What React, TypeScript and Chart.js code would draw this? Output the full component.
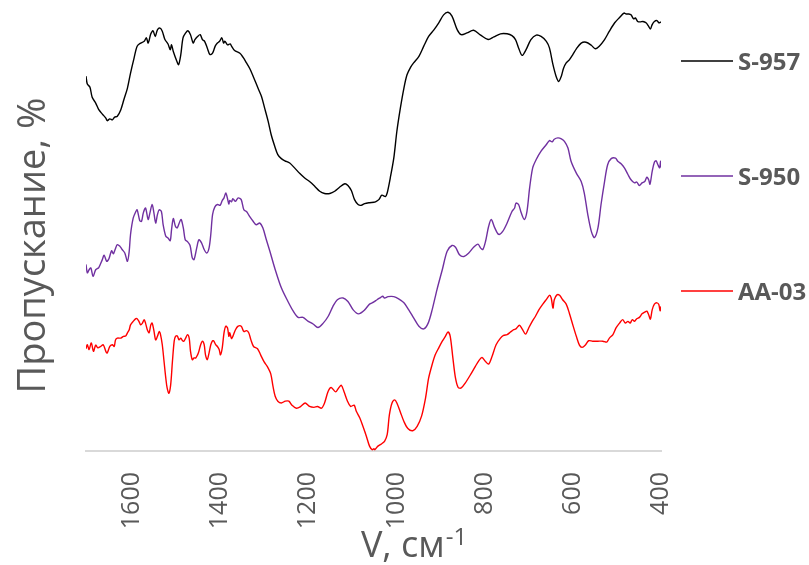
import React, { useEffect, useRef } from "react";
import { Chart, registerables } from "chart.js";

Chart.register(...registerables);

const seriesNames = ["S-957", "S-950", "AA-03"];
const seriesColors = ["#000000", "#7030A0", "#FF0000"];
const yTitle = "Пропускание, %";
const xTitle = "V, см";
const xTitleSup = "-1";
const xMin = 400;
const xMax = 1704;
const xStep = 200;

const s957X = [1704, 1701, 1695, 1690, 1682, 1675, 1667, 1659, 1656, 1650, 1644, 1639, 1633, 1625, 1618, 1610, 1603, 1595, 1588, 1580, 1572, 1567, 1563, 1557, 1552, 1547, 1542, 1536, 1531, 1525, 1518, 1513, 1510, 1506, 1498, 1494, 1489, 1484, 1478, 1473, 1467, 1461, 1457, 1451, 1445, 1440, 1435, 1429, 1423, 1417, 1411, 1406, 1401, 1396, 1392, 1389, 1383, 1377, 1374, 1367, 1355, 1348, 1340, 1333, 1325, 1314, 1306, 1299, 1291, 1284, 1276, 1269, 1261, 1253, 1242, 1231, 1219, 1208, 1197, 1185, 1174, 1163, 1151, 1140, 1129, 1117, 1110, 1102, 1095, 1087, 1080, 1072, 1061, 1051, 1048, 1040, 1033, 1025, 1021, 1014, 1006, 999, 991, 983, 976, 968, 961, 949, 938, 927, 915, 904, 893, 883, 874, 862, 853, 840, 825, 809, 792, 779, 764, 749, 738, 730, 723, 715, 706, 695, 683, 672, 660, 653, 645, 638, 632, 626, 621, 615, 608, 600, 592, 581, 570, 558, 549, 540, 528, 517, 505, 494, 484, 479, 473, 468, 462, 458, 453, 447, 441, 434, 428, 424, 420, 415, 409, 405, 400];
const s957Y = [85.0, 83.2, 82.5, 80.2, 78.9, 77.4, 76.4, 75.5, 74.9, 75.3, 75.1, 75.7, 75.9, 77.4, 79.7, 82.3, 85.7, 89.1, 91.8, 92.5, 92.9, 93.7, 92.5, 94.6, 95.3, 94.0, 95.5, 95.9, 95.2, 93.3, 92.3, 91.0, 92.1, 90.6, 88.4, 87.6, 89.9, 93.7, 94.8, 95.3, 94.4, 92.5, 93.3, 94.0, 94.4, 93.3, 92.9, 91.4, 89.9, 90.2, 91.8, 92.5, 92.9, 93.7, 92.5, 92.9, 92.1, 92.3, 91.8, 90.8, 90.2, 89.3, 88.0, 86.8, 85.0, 82.3, 80.4, 77.8, 74.8, 71.7, 69.1, 67.2, 66.3, 65.8, 65.3, 64.2, 62.9, 61.9, 61.1, 60.0, 58.9, 58.4, 58.4, 58.9, 59.8, 60.6, 60.2, 59.0, 57.0, 55.9, 55.7, 56.1, 56.3, 56.4, 56.5, 57.0, 58.0, 57.7, 58.5, 61.9, 66.4, 72.5, 77.8, 82.3, 85.3, 87.0, 88.0, 89.5, 91.8, 94.0, 95.5, 97.1, 98.9, 99.5, 98.6, 95.5, 94.4, 94.8, 95.4, 94.3, 93.3, 93.9, 94.6, 94.6, 94.2, 93.3, 91.4, 89.7, 91.0, 93.3, 94.3, 94.0, 92.9, 91.4, 87.6, 85.0, 83.8, 85.0, 86.8, 88.0, 88.7, 89.9, 91.2, 92.5, 92.7, 92.0, 91.2, 91.8, 93.3, 95.2, 97.1, 98.3, 99.3, 99.1, 99.1, 98.9, 98.0, 98.2, 97.4, 97.3, 97.4, 97.1, 96.3, 95.7, 96.7, 97.4, 97.6, 97.1, 97.3];

const s950X = [1704, 1701, 1697, 1693, 1688, 1682, 1675, 1667, 1663, 1657, 1652, 1646, 1642, 1638, 1633, 1627, 1622, 1616, 1610, 1606, 1603, 1597, 1591, 1588, 1582, 1578, 1574, 1569, 1563, 1559, 1554, 1550, 1546, 1542, 1538, 1533, 1529, 1523, 1518, 1513, 1510, 1506, 1501, 1497, 1491, 1488, 1483, 1479, 1474, 1468, 1463, 1459, 1453, 1448, 1442, 1436, 1430, 1425, 1421, 1417, 1412, 1406, 1400, 1395, 1391, 1387, 1383, 1380, 1378, 1374, 1371, 1365, 1359, 1352, 1346, 1340, 1333, 1325, 1318, 1310, 1303, 1295, 1287, 1276, 1261, 1246, 1234, 1223, 1212, 1200, 1189, 1178, 1166, 1155, 1144, 1134, 1121, 1110, 1098, 1086, 1072, 1061, 1051, 1044, 1036, 1031, 1027, 1019, 1006, 995, 983, 972, 961, 949, 938, 928, 919, 908, 896, 885, 874, 866, 857, 847, 836, 825, 815, 809, 804, 798, 791, 785, 777, 768, 759, 749, 738, 732, 729, 723, 717, 710, 704, 698, 691, 683, 672, 660, 653, 647, 642, 634, 626, 619, 611, 604, 592, 581, 574, 566, 558, 551, 543, 536, 528, 521, 513, 503, 498, 490, 483, 475, 468, 460, 455, 449, 443, 437, 432, 428, 425, 420, 415, 411, 407, 403, 401, 400];
const s950Y = [42.3, 40.4, 41.1, 41.5, 39.6, 41.1, 41.6, 43.4, 44.4, 43.0, 43.6, 45.4, 44.7, 45.7, 46.8, 46.4, 45.7, 44.9, 43.0, 45.3, 49.1, 52.8, 54.3, 54.7, 52.2, 52.1, 54.0, 55.1, 52.5, 54.0, 55.9, 54.0, 51.7, 53.6, 54.7, 54.3, 51.3, 48.7, 48.3, 47.7, 50.2, 52.7, 50.9, 50.6, 52.1, 52.5, 50.4, 47.9, 47.5, 46.6, 43.8, 43.4, 46.0, 47.9, 47.2, 45.7, 44.9, 46.0, 49.1, 53.6, 55.3, 55.9, 55.7, 56.8, 57.4, 58.5, 57.2, 56.0, 56.8, 56.5, 57.2, 56.6, 57.4, 57.0, 54.7, 54.3, 53.2, 52.1, 51.3, 51.7, 50.6, 47.9, 45.3, 41.5, 37.0, 33.9, 31.7, 30.3, 30.3, 29.4, 28.8, 28.0, 29.0, 30.5, 32.8, 34.3, 34.7, 33.9, 32.0, 31.1, 32.0, 33.3, 33.8, 34.3, 34.8, 35.1, 34.7, 35.0, 35.0, 34.5, 33.6, 32.0, 30.2, 28.3, 27.7, 29.0, 32.0, 36.6, 41.1, 45.3, 46.6, 46.2, 44.5, 44.1, 44.9, 46.2, 46.9, 46.0, 45.7, 47.5, 50.9, 52.5, 50.6, 49.1, 49.8, 51.7, 54.3, 55.1, 56.2, 55.9, 54.0, 52.5, 54.3, 59.6, 64.2, 66.1, 68.0, 69.5, 70.4, 70.1, 70.7, 71.0, 70.8, 70.2, 68.7, 65.7, 63.0, 61.1, 58.5, 53.6, 49.8, 48.4, 50.6, 55.9, 61.1, 64.9, 66.3, 66.4, 65.7, 65.1, 64.2, 62.7, 61.5, 60.8, 61.0, 60.2, 60.8, 61.1, 62.1, 61.5, 60.5, 63.4, 65.5, 65.8, 64.9, 64.2, 65.7, 64.3];

const aa03X = [1704, 1701, 1697, 1692, 1687, 1682, 1677, 1671, 1665, 1659, 1656, 1650, 1644, 1640, 1637, 1633, 1625, 1619, 1614, 1610, 1606, 1603, 1597, 1591, 1588, 1584, 1580, 1576, 1572, 1569, 1565, 1561, 1557, 1554, 1550, 1546, 1542, 1538, 1535, 1531, 1527, 1523, 1520, 1516, 1512, 1508, 1504, 1501, 1497, 1493, 1489, 1485, 1482, 1478, 1474, 1470, 1467, 1463, 1459, 1455, 1451, 1448, 1444, 1440, 1436, 1433, 1429, 1425, 1421, 1417, 1414, 1410, 1406, 1402, 1399, 1395, 1391, 1387, 1383, 1380, 1378, 1374, 1371, 1365, 1359, 1352, 1346, 1340, 1335, 1330, 1324, 1315, 1308, 1300, 1293, 1285, 1280, 1275, 1269, 1261, 1252, 1244, 1237, 1227, 1217, 1207, 1197, 1187, 1179, 1170, 1163, 1155, 1148, 1138, 1131, 1125, 1119, 1111, 1104, 1096, 1091, 1083, 1076, 1068, 1061, 1055, 1051, 1049, 1042, 1034, 1027, 1021, 1016, 1010, 1004, 999, 991, 983, 974, 963, 953, 943, 934, 927, 919, 912, 904, 896, 889, 883, 878, 872, 866, 860, 853, 844, 832, 821, 813, 806, 798, 791, 783, 774, 764, 757, 749, 741, 734, 729, 721, 715, 707, 700, 692, 685, 677, 668, 659, 653, 649, 645, 642, 636, 630, 623, 615, 608, 600, 592, 585, 579, 571, 564, 555, 543, 532, 523, 517, 509, 502, 494, 487, 481, 475, 470, 465, 460, 455, 449, 443, 437, 432, 428, 424, 420, 415, 409, 405, 402, 400];
const aa03Y = [23.2, 24.1, 23.0, 24.5, 22.6, 24.0, 23.4, 23.7, 24.1, 22.6, 22.2, 23.7, 24.1, 23.7, 25.2, 25.6, 25.6, 26.0, 26.1, 26.8, 27.5, 28.6, 29.4, 30.0, 30.0, 29.4, 28.6, 29.0, 29.8, 29.0, 27.5, 26.8, 28.6, 29.0, 27.3, 25.2, 26.0, 27.1, 26.4, 24.1, 20.3, 16.5, 14.3, 13.1, 15.0, 20.3, 24.9, 26.0, 26.1, 25.2, 25.6, 25.0, 24.9, 25.6, 26.4, 25.6, 22.6, 20.7, 21.1, 21.1, 21.8, 22.6, 24.1, 24.9, 24.1, 21.8, 20.7, 22.2, 24.1, 25.0, 24.9, 24.1, 23.7, 23.0, 21.8, 23.4, 26.8, 28.3, 27.9, 26.0, 26.8, 25.5, 26.0, 27.5, 28.3, 28.3, 27.1, 27.3, 26.8, 25.2, 23.7, 23.2, 21.8, 20.2, 19.2, 17.5, 14.7, 12.4, 11.3, 10.9, 11.3, 11.3, 10.4, 9.7, 10.1, 10.9, 10.1, 9.9, 10.1, 9.7, 10.9, 13.5, 14.4, 13.4, 14.3, 14.9, 13.5, 11.3, 10.1, 10.4, 9.0, 7.5, 5.6, 3.3, 1.1, 0.3, 0.5, 0.3, 1.1, 1.6, 2.2, 3.7, 8.2, 10.9, 11.6, 10.9, 8.8, 6.7, 5.1, 4.6, 5.6, 7.9, 12.0, 16.5, 19.6, 21.8, 23.4, 24.9, 26.0, 27.0, 26.0, 21.1, 16.5, 14.4, 14.3, 15.4, 17.3, 19.2, 20.5, 21.2, 20.3, 19.7, 21.5, 24.1, 25.6, 26.2, 26.4, 27.0, 27.5, 27.7, 28.5, 27.7, 26.5, 27.9, 29.4, 30.5, 32.0, 33.3, 34.5, 35.3, 34.7, 32.4, 34.3, 35.4, 35.3, 34.3, 33.3, 31.3, 28.6, 26.0, 24.0, 23.5, 24.1, 25.0, 24.9, 24.9, 24.9, 24.7, 25.6, 26.4, 27.9, 29.0, 29.8, 29.0, 29.4, 29.0, 29.8, 29.4, 30.0, 30.3, 31.1, 31.5, 31.7, 30.9, 29.9, 32.0, 33.3, 33.6, 33.2, 31.8, 32.8];

const TEXT_COLOR = "#595959";
const FONT = '"Open Sans", "Noto Sans", sans-serif';

const toPoints = (xs: number[], ys: number[]) => xs.map((x, i) => ({ x, y: ys[i] }));

const overlayPlugin = {
  id: "overlayText",
  afterDraw(chart: any) {
    const { ctx, chartArea } = chart;
    const { left, right, top, bottom } = chartArea;
    ctx.save();
    ctx.fillStyle = TEXT_COLOR;

    // Y axis title
    ctx.save();
    ctx.translate(left - 52, (top + bottom) / 2 + 15);
    ctx.rotate(-Math.PI / 2);
    ctx.font = `38px ${FONT}`;
    ctx.textAlign = "center";
    ctx.textBaseline = "middle";
    ctx.fillText(yTitle, 0, 0);
    ctx.restore();

    // X axis title with superscript
    ctx.font = `36px ${FONT}`;
    const mainW = ctx.measureText(xTitle).width;
    ctx.font = `24px ${FONT}`;
    const supW = ctx.measureText(xTitleSup).width;
    const cx = (left + right) / 2 + 40;
    const x0 = cx - (mainW + supW) / 2;
    const base = bottom + 106;
    ctx.textAlign = "left";
    ctx.textBaseline = "alphabetic";
    ctx.font = `36px ${FONT}`;
    ctx.fillText(xTitle, x0, base);
    ctx.font = `24px ${FONT}`;
    ctx.fillText(xTitleSup, x0 + mainW + 1, base - 12);

    // Legend
    chart.data.datasets.forEach((ds: any, i: number) => {
      const y = top + 51 + i * 115;
      ctx.strokeStyle = ds.borderColor;
      ctx.lineWidth = 1.5;
      ctx.beginPath();
      ctx.moveTo(right + 20, y);
      ctx.lineTo(right + 72, y);
      ctx.stroke();
      ctx.font = `bold 24px ${FONT}`;
      ctx.fillStyle = TEXT_COLOR;
      ctx.textAlign = "left";
      ctx.textBaseline = "alphabetic";
      ctx.fillText(ds.label, right + 77, y + 8.5);
    });
    ctx.restore();
  },
};

export default function App() {
  const canvasRef = useRef<HTMLCanvasElement | null>(null);

  useEffect(() => {
    document.body.style.margin = "0";
    const canvas = canvasRef.current;
    if (!canvas) return;
    const datasets = [
      toPoints(s957X, s957Y),
      toPoints(s950X, s950Y),
      toPoints(aa03X, aa03Y),
    ].map((pts, i) => ({
      label: seriesNames[i],
      data: pts,
      borderColor: seriesColors[i],
      backgroundColor: seriesColors[i],
      borderWidth: 1.4,
      pointRadius: 0,
      tension: 0.3,
      fill: false,
    }));

    const chart = new Chart(canvas, {
      type: "line",
      data: { datasets },
      options: {
        responsive: false,
        animation: false,
        layout: { padding: { left: 86, right: 148, top: 10, bottom: 0 } },
        plugins: {
          legend: { display: false },
          tooltip: { enabled: false },
        },
        scales: {
          x: {
            type: "linear",
            reverse: true,
            min: xMin,
            max: xMax,
            grid: { display: false, drawTicks: false },
            border: { display: true, color: "#D9D9D9", width: 2 },
            ticks: {
              stepSize: xStep,
              includeBounds: false,
              autoSkip: false,
              minRotation: 90,
              maxRotation: 90,
              padding: 21,
              color: TEXT_COLOR,
              font: { family: FONT, size: 25 },
              callback: (v: any) => String(v),
            },
            afterFit: (s: any) => {
              s.height = 114;
            },
          },
          y: {
            display: false,
            min: 0,
            max: 100,
          },
        },
      },
      plugins: [overlayPlugin],
    } as any);

    return () => chart.destroy();
  }, []);

  return (
    <div style={{ width: 809, height: 565 }}>
      <canvas ref={canvasRef} width={809} height={565} style={{ display: "block" }} />
    </div>
  );
}
